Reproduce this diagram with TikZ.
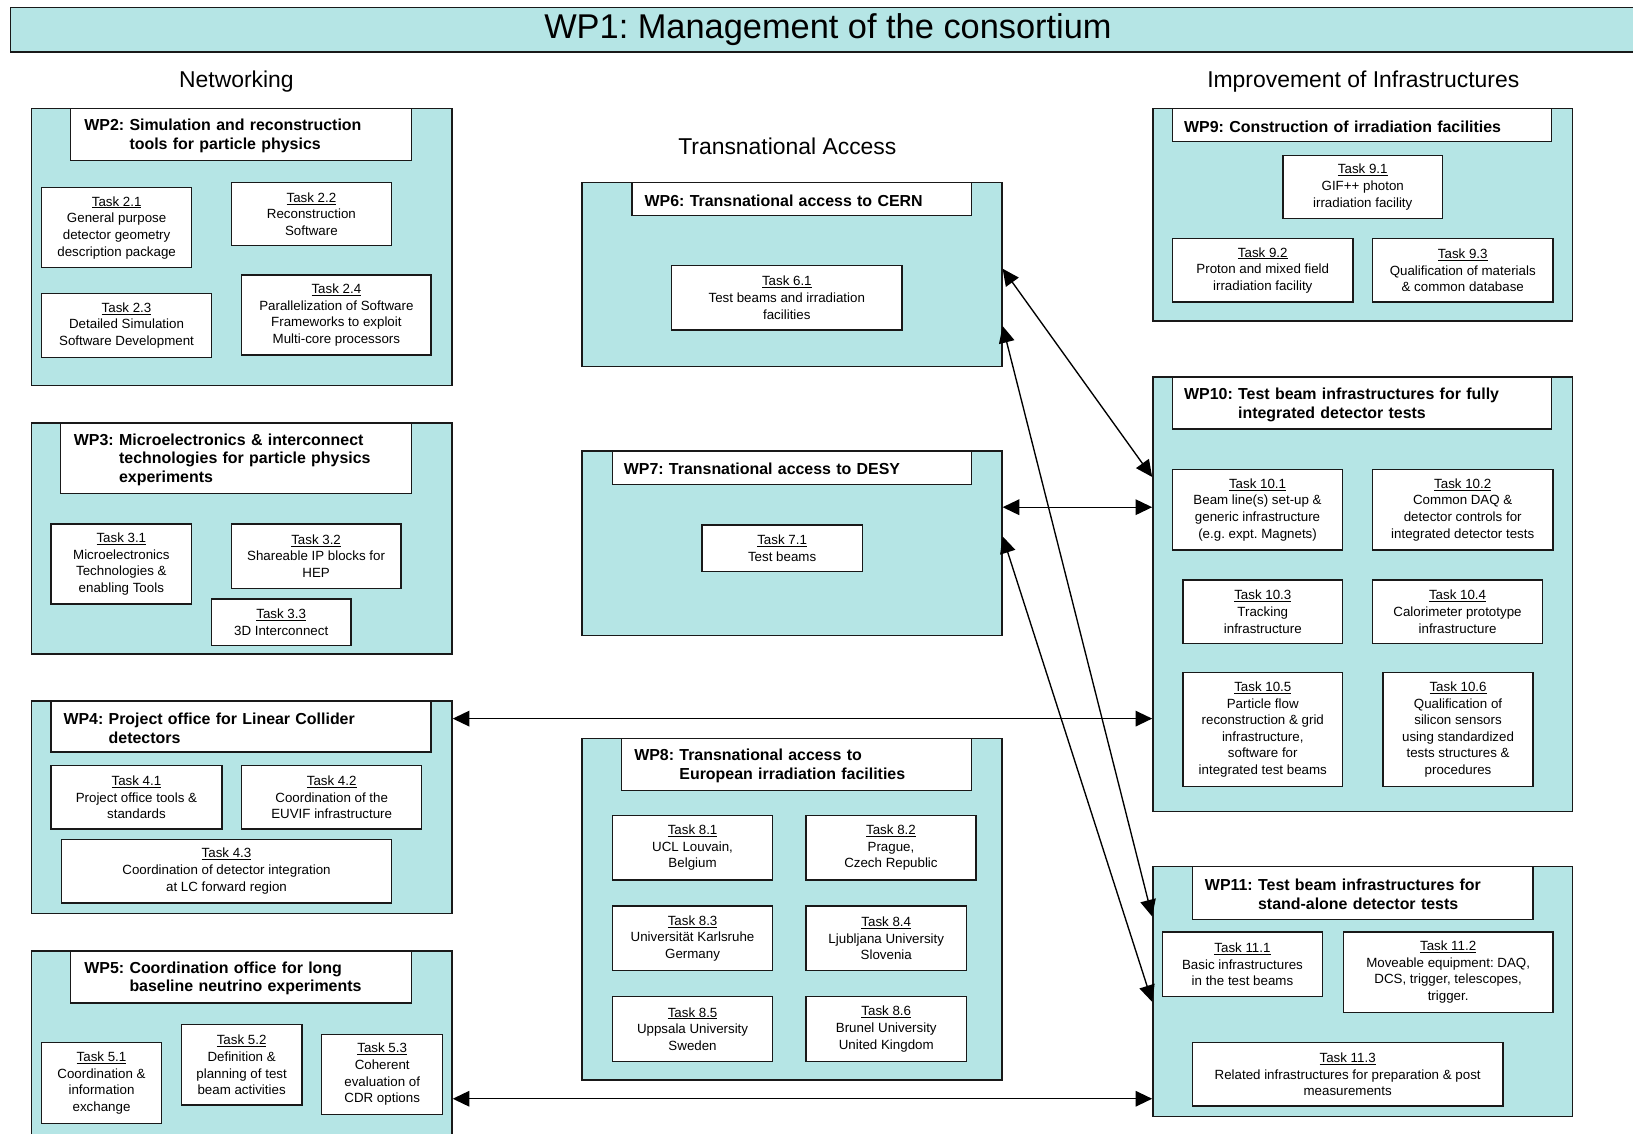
\documentclass[tikz,border=0pt]{standalone}
\usepackage{fontspec}
\setmainfont{Liberation Sans}
\usetikzlibrary{arrows.meta}
\definecolor{wpfill}{RGB}{181,229,229}
\definecolor{edge}{RGB}{25,25,25}
\newcommand\tk[1]{\underline{#1}}
\newcommand\BX[6]{\node[#2, minimum width={(#5)-(#3)}, minimum height={(#6)-(#4)}] (#1) at ({((#3)+(#5))/2},{((#4)+(#6))/2})}
\newcommand\HD[7]{%
  \pgfmathsetmacro\hdw{(#4)-(#2)-2*((#6)-(#2))}%
  \node[head, minimum width={(#4)-(#2)}, minimum height={(#5)-(#3)}] (#1) at ({((#2)+(#4))/2},{((#3)+(#5))/2}) {};
  \node[headtext, text width=\hdw pt] (#1t) at ({((#2)+(#4))/2},{((#3)+(#5))/2+1.5}) {#7};}
\begin{document}
\frenchspacing
\begin{tikzpicture}[x=1pt,y=-1pt,
  outer/.style={draw=edge, fill=wpfill, line width=1.4pt, inner sep=0pt},
  titlebox/.style={draw=edge, fill=wpfill, line width=1.4pt, inner sep=0pt, font=\fontsize{33}{38}\selectfont},
  task/.style={draw=edge, fill=white, line width=1.3pt, inner sep=0pt, align=center, font=\fontsize{12.8}{16}\selectfont},
  head/.style={draw=edge, fill=white, line width=1.3pt, inner sep=0pt},
  headtext/.style={inner sep=0pt, align=left, font=\fontsize{15.3}{18}\selectfont\bfseries},
  sect/.style={font=\fontsize{22}{26}\selectfont, inner sep=0pt},
  link/.style={arrows={Triangle[length=16pt,width=15pt]-Triangle[length=16pt,width=15pt]}, line width=1.3pt, draw=black}]
\fill[white] (0,0) rectangle (1568,1088);
\useasboundingbox (0,0) rectangle (1568,1088);

% title
\BX{title}{titlebox}{10}{7}{1580}{50} {WP1: Management of the consortium};
\node[sect] (net) at (227,78) {Networking};
\node[sect] (ta) at (756,140) {Transnational Access};
\node[sect] (ioi) at (1309,78) {Improvement of Infrastructures};

% WP2
\BX{wp2}{outer}{30}{104}{434}{370} {};
\HD{h2}{68}{104}{395}{154}{81}{WP2: Simulation and reconstruction\\\hphantom{WP2: }tools for particle physics}
\BX{t21}{task}{40}{180}{184}{257} {\tk{Task 2.1}\\General purpose\\detector geometry\\description package};
\BX{t22}{task}{222}{175}{376}{236} {\tk{Task 2.2}\\Reconstruction\\Software};
\BX{t23}{task}{40}{282}{203}{343} {\tk{Task 2.3}\\Detailed Simulation\\Software Development};
\BX{t24}{task}{232}{264}{414}{341} {\tk{Task 2.4}\\Parallelization of Software\\Frameworks to exploit\\Multi-core processors};

% WP3
\BX{wp3}{outer}{30}{406}{434}{628} {};
\HD{h3}{58}{406}{395}{474}{71}{WP3: Microelectronics \& interconnect\\\hphantom{WP3: }technologies for particle physics\\\hphantom{WP3: }experiments}
\BX{t31}{task}{49}{503}{184}{580} {\tk{Task 3.1}\\Microelectronics\\Technologies \&\\enabling Tools};
\BX{t32}{task}{222}{503}{385}{565} {\tk{Task 3.2}\\Shareable IP blocks for\\HEP};
\BX{t33}{task}{203}{575}{337}{620} {\tk{Task 3.3}\\3D Interconnect};

% WP4
\BX{wp4}{outer}{30}{673}{434}{877} {};
\HD{h4}{49}{673}{414}{722}{61}{WP4: Project office for Linear Collider\\\hphantom{WP4: }detectors}
\BX{t41}{task}{49}{735}{213}{796} {\tk{Task 4.1}\\Project office tools \&\\standards};
\BX{t42}{task}{232}{735}{405}{796} {\tk{Task 4.2}\\Coordination of the\\EUVIF infrastructure};
\BX{t43}{task}{59}{806}{376}{867} {\tk{Task 4.3}\\Coordination of detector integration\\at LC forward region};

% WP5
\BX{wp5}{outer}{30}{913}{434}{1100} {};
\HD{h5}{68}{913}{395}{963}{81}{WP5: Coordination office for long\\\hphantom{WP5: }baseline neutrino experiments}
\BX{t51}{task}{40}{1001}{155}{1079} {\tk{Task 5.1}\\Coordination \&\\information\\exchange};
\BX{t52}{task}{174}{984}{290}{1061} {\tk{Task 5.2}\\Definition \&\\planning of test\\beam activities};
\BX{t53}{task}{309}{993}{425}{1070} {\tk{Task 5.3}\\Coherent\\evaluation of\\CDR options};

% WP6
\BX{wp6}{outer}{559}{175}{962}{352} {};
\HD{h6}{607}{175}{933}{207}{619}{WP6: Transnational access to CERN}
\BX{t61}{task}{645}{255}{866}{317} {\tk{Task 6.1}\\Test beams and irradiation\\facilities};

% WP7
\BX{wp7}{outer}{559}{433}{962}{610} {};
\HD{h7}{588}{433}{933}{465}{599}{WP7: Transnational access to DESY}
\BX{t71}{task}{674}{504}{828}{549} {\tk{Task 7.1}\\Test beams};

% WP8
\BX{wp8}{outer}{559}{709}{962}{1037} {};
\HD{h8}{597}{709}{933}{759}{609}{WP8: Transnational access to\\\hphantom{WP8: }European irradiation facilities}
\BX{t81}{task}{588}{783}{742}{845} {\tk{Task 8.1}\\UCL Louvain,\\Belgium};
\BX{t82}{task}{774}{783}{937}{845} {\tk{Task 8.2}\\Prague,\\Czech Republic};
\BX{t83}{task}{588}{870}{742}{932} {\tk{Task 8.3}\\Universität Karlsruhe\\Germany};
\BX{t84}{task}{774}{870}{928}{932} {\tk{Task 8.4}\\Ljubljana University\\Slovenia};
\BX{t85}{task}{588}{957}{742}{1019} {\tk{Task 8.5}\\Uppsala University\\Sweden};
\BX{t86}{task}{774}{957}{928}{1019} {\tk{Task 8.6}\\Brunel University\\United Kingdom};

% WP9
\BX{wp9}{outer}{1107}{104}{1510}{308} {};
\HD{h9}{1126}{104}{1490}{136}{1137}{WP9: Construction of irradiation facilities}
\BX{t91}{task}{1232}{149}{1385}{210} {\tk{Task 9.1}\\GIF++ photon\\irradiation facility};
\BX{t92}{task}{1126}{229}{1299}{290} {\tk{Task 9.2}\\Proton and mixed field\\irradiation facility};
\BX{t93}{task}{1318}{229}{1491}{290} {\tk{Task 9.3}\\Qualification of materials\\\& common database};

% WP10
\BX{wp10}{outer}{1107}{362}{1510}{779} {};
\HD{h10}{1126}{362}{1490}{412}{1137}{WP10: Test beam infrastructures for fully\\\hphantom{WP10: }integrated detector tests}
\BX{t101}{task}{1126}{451}{1289}{528} {\tk{Task 10.1}\\Beam line(s) set-up \&\\generic infrastructure\\(e.g. expt. Magnets)};
\BX{t102}{task}{1318}{451}{1491}{528} {\tk{Task 10.2}\\Common DAQ \&\\detector controls for\\integrated detector tests};
\BX{t103}{task}{1136}{557}{1289}{618} {\tk{Task 10.3}\\Tracking\\infrastructure};
\BX{t104}{task}{1318}{557}{1481}{618} {\tk{Task 10.4}\\Calorimeter prototype\\infrastructure};
\BX{t105}{task}{1136}{646}{1289}{755} {\tk{Task 10.5}\\Particle flow\\reconstruction \& grid\\infrastructure,\\software for\\integrated test beams};
\BX{t106}{task}{1328}{646}{1472}{755} {\tk{Task 10.6}\\Qualification of\\silicon sensors\\using standardized\\tests structures \&\\procedures};

% WP11
\BX{wp11}{outer}{1107}{832}{1510}{1072} {};
\HD{h11}{1145}{832}{1472}{883}{1157}{WP11: Test beam infrastructures for\\\hphantom{WP11: }stand-alone detector tests}
\BX{t111}{task}{1116}{895}{1270}{957} {\tk{Task 11.1}\\Basic infrastructures\\in the test beams};
\BX{t112}{task}{1290}{895}{1491}{972} {\tk{Task 11.2}\\Moveable equipment: DAQ,\\DCS, trigger, telescopes,\\trigger.};
\BX{t113}{task}{1145}{1001}{1443}{1062} {\tk{Task 11.3}\\Related infrastructures for preparation \& post\\measurements};

% links
\draw[link] ([yshift=5.5pt]wp6.east) -- ([yshift=112.5pt]wp10.west);
\draw[link] ([yshift=-49.5pt]wp6.east) -- ([yshift=72pt]wp11.west);
\draw[link] ([yshift=6.5pt]wp7.east) -- ([yshift=-10pt]wp11.west);
\draw[link] ([yshift=34.5pt]wp7.east) -- ([yshift=83.5pt]wp10.west);
\draw[link] ([yshift=85pt]wp4.east) -- ([yshift=-119.5pt]wp10.west);
\draw[link] ([yshift=-48.5pt]wp5.east) -- ([yshift=-103pt]wp11.west);
\end{tikzpicture}
\end{document}
